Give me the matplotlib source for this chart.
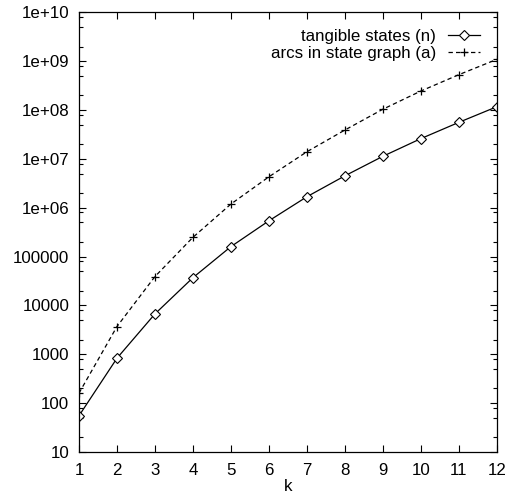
import numpy as np
import matplotlib
matplotlib.use('Agg')
import matplotlib.pyplot as plt
from matplotlib.ticker import LogLocator, FixedLocator, NullFormatter


k = [1, 2, 3, 4, 5, 6, 7, 8, 9, 10, 11, 12]
tangible_states = [55, 830, 6700, 37000, 160000, 540000, 1.68e6, 4.5e6,
                   1.13e7, 2.6e7, 5.6e7, 1.17e8]
state_graph_arcs = [160, 3700, 39000, 248000, 1.19e6, 4.3e6, 1.4e7, 3.9e7,
                    1.04e8, 2.45e8, 5.3e8, 1.09e9]
y_ticks = [1e1, 1e2, 1e3, 1e4, 1e5, 1e6, 1e7, 1e8, 1e9, 1e10]
y_tick_labels = ['10', '100', '1000', '10000', '100000',
                 '1e+06', '1e+07', '1e+08', '1e+09', '1e+10']

plt.rcParams['font.family'] = ['Liberation Sans', 'DejaVu Sans']
plt.rcParams['font.size'] = 12.2

fig = plt.figure(figsize=(5.08, 4.95), dpi=100)
ax = fig.add_axes([0.1555, 0.087, 0.8225, 0.888])

ax.plot(k, tangible_states, '-', color='black', lw=0.9,
        marker='D', markersize=5.5, markerfacecolor='white',
        markeredgecolor='black', markeredgewidth=0.8,
        label='tangible states (n)')
ax.plot(k, state_graph_arcs, color='black', lw=0.9, dashes=(3.5, 2.5),
        marker='+', markersize=6, markeredgewidth=0.9,
        label='arcs in state graph (a)')

ax.set_yscale('log')
ax.set_xlim(1, 12)
ax.set_ylim(10, 1e10)
ax.set_xticks(k)
ax.yaxis.set_major_locator(FixedLocator(y_ticks))
ax.set_yticklabels(y_tick_labels)
ax.yaxis.set_minor_locator(LogLocator(base=10, subs=(2.0, 5.0, 8.0), numticks=20))
ax.yaxis.set_minor_formatter(NullFormatter())

ax.tick_params(which='both', direction='in', top=True, right=True, color='black')
ax.tick_params(which='major', length=5, width=0.8)
ax.tick_params(which='minor', length=3, width=0.8)
ax.tick_params(axis='x', pad=8)
ax.tick_params(axis='y', pad=7)
for s in ax.spines.values():
    s.set_linewidth(0.9)

ax.set_xlabel('k', labelpad=1)

ax.legend(loc='upper right', markerfirst=False, frameon=False,
          handlelength=1.9, handletextpad=0.7, labelspacing=0.1,
          borderaxespad=0.7, borderpad=0.3)

plt.savefig('out.png', dpi=100)
